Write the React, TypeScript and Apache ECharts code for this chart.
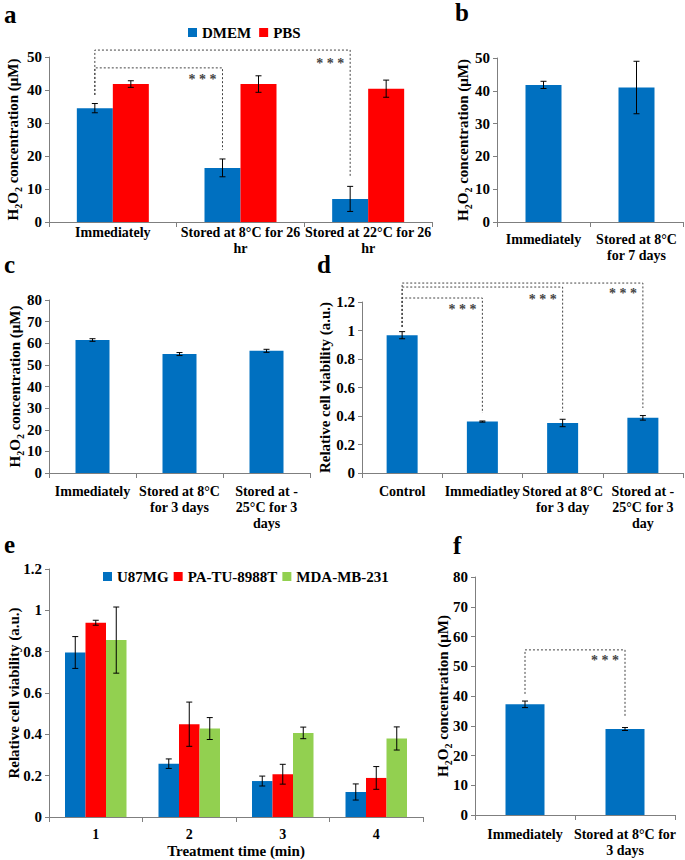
import React, { useEffect, useRef } from "react";
import * as echarts from "echarts";

const FONT = "Liberation Serif";
const BLUE = "#0070C0";
const RED = "#FF0000";
const GREEN = "#92D050";
const AXIS = "#7f7f7f";

// ---- Panel a ----
const aCategories = ["Immediately", "Stored at 8°C for 26\nhr", "Stored at 22°C for 26\nhr"];
const aDMEM = [34.5, 16.4, 7.0];
const aDMEMErr = [1.4, 2.7, 3.8];
const aPBS = [41.8, 41.8, 40.4];
const aPBSErr = [1.0, 2.5, 2.6];
// [fromCat, toCat, lineY, leftEndY, rightEndY, starsY]
const aBrackets = [
  [0, 1, 46.7, 38.5, 21.8, 43.9],
  [0, 2, 52.1, 38.5, 13.6, 48.8],
];

// ---- Panel b ----
const bCategories = ["Immediately", "Stored at 8°C\nfor 7 days"];
const bValues = [41.8, 41.0];
const bErr = [1.1, 8.0];

// ---- Panel c ----
const cCategories = ["Immediately", "Stored at 8°C\nfor 3 days", "Stored at -\n25°C for 3\ndays"];
const cValues = [61.5, 55.0, 56.5];
const cErr = [0.6, 0.7, 0.7];

// ---- Panel d ----
const dCategories = ["Control", "Immediatley", "Stored at 8°C\nfor 3 day", "Stored at -\n25°C for 3\nday"];
const dValues = [0.967, 0.361, 0.351, 0.387];
const dErr = [0.025, 0.004, 0.026, 0.016];
const dBrackets = [
  [0, 1, 1.228, 1.025, 0.421, 1.165],
  [0, 2, 1.305, 1.025, 0.428, 1.235],
  [0, 3, 1.333, 1.025, 0.456, 1.277],
];

// ---- Panel e ----
const eCategories = ["1", "2", "3", "4"];
const eU87MG = [0.796, 0.258, 0.174, 0.121];
const eU87MGErr = [0.077, 0.023, 0.024, 0.039];
const ePATU = [0.94, 0.449, 0.207, 0.189];
const ePATUErr = [0.012, 0.107, 0.048, 0.055];
const eMDA = [0.856, 0.428, 0.407, 0.38];
const eMDAErr = [0.16, 0.053, 0.028, 0.056];

// ---- Panel f ----
const fCategories = ["Immediately", "Stored at 8°C for\n3 days"];
const fValues = [37.2, 28.9];
const fErr = [1.1, 0.5];
const fBrackets = [[0, 1, 55.5, 40.7, 32.9, 52.8]];

const H2O2_NAME = "{h|H}{s|2}{h|O}{s|2}{h| concentration (μM)}";
const VIAB_NAME = "{h|Relative cell viability (a.u.)}";
const nameRich = {
  h: { fontFamily: FONT, fontWeight: "bold", fontSize: 15, color: "#000", lineHeight: 17 },
  s: { fontFamily: FONT, fontWeight: "bold", fontSize: 10, color: "#000", lineHeight: 20, verticalAlign: "bottom" },
};

const grids = [
  { left: 49, top: 57, width: 383, height: 165 },
  { left: 497, top: 58, width: 186, height: 164 },
  { left: 49, top: 300, width: 261, height: 173 },
  { left: 362, top: 302, width: 321, height: 171 },
  { left: 49, top: 569, width: 374, height: 248 },
  { left: 475, top: 577, width: 200, height: 238 },
];

function xAxisCfg(gridIndex: number, data: string[], margin: number, extra: any = {}) {
  return {
    type: "category",
    gridIndex,
    data,
    axisLine: { lineStyle: { color: AXIS, width: 1 } },
    axisTick: { show: true, length: 5, alignWithLabel: false, lineStyle: { color: AXIS } },
    axisLabel: {
      interval: 0,
      margin,
      fontFamily: FONT,
      fontWeight: "bold",
      fontSize: 14,
      lineHeight: 16,
      color: "#000",
    },
    splitLine: { show: false },
    ...extra,
  };
}

function yAxisCfg(gridIndex: number, max: number, interval: number, name: string, nameGap: number) {
  return {
    type: "value",
    gridIndex,
    min: 0,
    max,
    interval,
    name,
    nameLocation: "middle",
    nameRotate: 90,
    nameGap,
    nameMoveOverlap: false,
    nameTextStyle: { rich: nameRich },
    axisLine: { show: true, lineStyle: { color: AXIS, width: 1 } },
    axisTick: { show: true, length: 4, lineStyle: { color: AXIS } },
    axisLabel: { margin: 7, fontFamily: FONT, fontWeight: "bold", fontSize: 15, color: "#000" },
    splitLine: { show: false },
  };
}

function barSeries(name: string, idx: number, data: number[], color: string, barWidth: number) {
  return {
    type: "bar",
    name,
    xAxisIndex: idx,
    yAxisIndex: idx,
    data,
    barWidth,
    barGap: "0%",
    itemStyle: { color },
    silent: true,
    z: 2,
  };
}

function errSeries(idx: number, values: number[], errs: number[], slot: number, nSlots: number, bw: number) {
  return {
    type: "custom",
    xAxisIndex: idx,
    yAxisIndex: idx,
    silent: true,
    z: 4,
    clip: false,
    data: values.map((v, i) => [i, v, errs[i]]),
    renderItem: (params: any, api: any) => {
      const c = api.value(0);
      const v = api.value(1);
      const e = api.value(2);
      const p = api.coord([c, v]);
      const top = api.coord([c, v + e])[1];
      const bot = api.coord([c, v - e])[1];
      const x = p[0] + (slot - (nSlots - 1) / 2) * bw;
      const st = { stroke: "#000", lineWidth: 1 };
      return {
        type: "group",
        children: [
          { type: "line", shape: { x1: x, y1: top, x2: x, y2: bot }, style: st },
          { type: "line", shape: { x1: x - 3, y1: top, x2: x + 3, y2: top }, style: st },
          { type: "line", shape: { x1: x - 3, y1: bot, x2: x + 3, y2: bot }, style: st },
        ],
      };
    },
  };
}

function bracketSeries(idx: number, brackets: number[][], offset: number) {
  return {
    type: "custom",
    xAxisIndex: idx,
    yAxisIndex: idx,
    silent: true,
    z: 5,
    clip: false,
    data: brackets,
    renderItem: (params: any, api: any) => {
      const c1 = api.value(0);
      const c2 = api.value(1);
      const yTop = api.coord([c1, api.value(2)])[1];
      const yL = api.coord([c1, api.value(3)])[1];
      const yR = api.coord([c2, api.value(4)])[1];
      const yS = api.coord([c2, api.value(5)])[1];
      const xL = api.coord([c1, 0])[0] + offset;
      const xR = api.coord([c2, 0])[0] + offset;
      return {
        type: "group",
        children: [
          {
            type: "polyline",
            shape: { points: [[xL, yL], [xL, yTop], [xR, yTop], [xR, yR]] },
            style: { stroke: "#444", lineWidth: 1, lineDash: [2, 2], fill: null },
          },
          {
            type: "text",
            style: {
              text: "* * *",
              x: xR - 6,
              y: yS + 2.5,
              align: "right",
              verticalAlign: "middle",
              fill: "#444",
              fontFamily: FONT,
              fontWeight: "bold",
              fontSize: 14,
            },
          },
        ],
      };
    },
  };
}

const panelLetters = [
  ["a", 4, 14],
  ["b", 455, 12],
  ["c", 4, 264],
  ["d", 317, 264],
  ["e", 4, 544],
  ["f", 453, 545],
];

export default function App() {
  const ref = useRef<HTMLDivElement>(null);
  useEffect(() => {
    if (!ref.current) return;
    const chart = echarts.init(ref.current, undefined, { renderer: "svg" });
    const legendText = { fontFamily: FONT, fontWeight: "bold", fontSize: 15, color: "#000" };
    const option: any = {
      animation: false,
      backgroundColor: "#fff",
      textStyle: { fontFamily: FONT },
      grid: grids.map((g) => ({ ...g, containLabel: false, outerBoundsMode: "none" })),
      legend: [
        {
          data: ["DMEM", "PBS"],
          left: 188,
          top: 25,
          padding: 0,
          icon: "rect",
          itemWidth: 9,
          itemHeight: 9,
          itemGap: 8,
          selectedMode: false,
          textStyle: legendText,
        },
        {
          data: ["U87MG", "PA-TU-8988T", "MDA-MB-231"],
          left: 103,
          top: 569,
          padding: 0,
          icon: "rect",
          itemWidth: 9,
          itemHeight: 9,
          itemGap: 5,
          selectedMode: false,
          textStyle: legendText,
        },
      ],
      xAxis: [
        xAxisCfg(0, aCategories, 2),
        xAxisCfg(1, bCategories, 9),
        xAxisCfg(2, cCategories, 10),
        xAxisCfg(3, dCategories, 10),
        xAxisCfg(4, eCategories, 9, {
          name: "Treatment time (min)",
          nameLocation: "middle",
          nameGap: 26,
          nameMoveOverlap: false,
          nameTextStyle: { fontFamily: FONT, fontWeight: "bold", fontSize: 15, color: "#000" },
        }),
        xAxisCfg(5, fCategories, 11),
      ],
      yAxis: [
        yAxisCfg(0, 50, 10, H2O2_NAME, 26),
        yAxisCfg(1, 50, 10, H2O2_NAME, 24),
        yAxisCfg(2, 80, 10, H2O2_NAME, 24),
        yAxisCfg(3, 1.2, 0.2, VIAB_NAME, 29),
        yAxisCfg(4, 1.2, 0.2, VIAB_NAME, 27),
        yAxisCfg(5, 80, 10, H2O2_NAME, 22),
      ],
      series: [
        barSeries("DMEM", 0, aDMEM, BLUE, 36),
        barSeries("PBS", 0, aPBS, RED, 36),
        errSeries(0, aDMEM, aDMEMErr, 0, 2, 36),
        errSeries(0, aPBS, aPBSErr, 1, 2, 36),
        bracketSeries(0, aBrackets, -18),

        barSeries("b", 1, bValues, BLUE, 36),
        errSeries(1, bValues, bErr, 0, 1, 36),

        barSeries("c", 2, cValues, BLUE, 34),
        errSeries(2, cValues, cErr, 0, 1, 34),

        barSeries("d", 3, dValues, BLUE, 31),
        errSeries(3, dValues, dErr, 0, 1, 31),
        bracketSeries(3, dBrackets, 0),

        barSeries("U87MG", 4, eU87MG, BLUE, 20.5),
        barSeries("PA-TU-8988T", 4, ePATU, RED, 20.5),
        barSeries("MDA-MB-231", 4, eMDA, GREEN, 20.5),
        errSeries(4, eU87MG, eU87MGErr, 0, 3, 20.5),
        errSeries(4, ePATU, ePATUErr, 1, 3, 20.5),
        errSeries(4, eMDA, eMDAErr, 2, 3, 20.5),

        barSeries("f", 5, fValues, BLUE, 39),
        errSeries(5, fValues, fErr, 0, 1, 39),
        bracketSeries(5, fBrackets, 0),
      ],
      graphic: panelLetters.map(([t, x, y]) => ({
        type: "text",
        x: x as number,
        y: y as number,
        silent: true,
        style: {
          text: t as string,
          fontFamily: FONT,
          fontWeight: "bold",
          fontSize: 25,
          fill: "#000",
          verticalAlign: "middle",
          align: "left",
        },
      })),
    };
    chart.setOption(option);
    return () => chart.dispose();
  }, []);
  return (
    <div
      ref={ref}
      style={{ position: "fixed", left: 0, top: 0, width: 685, height: 860, background: "#fff" }}
    />
  );
}
